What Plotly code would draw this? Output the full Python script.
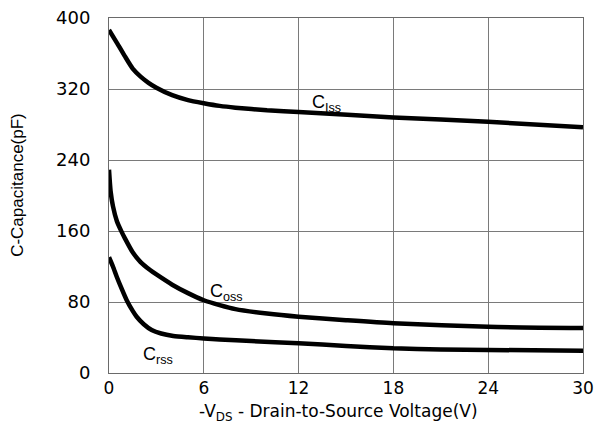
import plotly.graph_objects as go

# Data
v_ciss = [0, 0.5, 1.0, 1.5, 2.0, 2.5, 3.0, 4.0, 5.0, 6.0, 7.0, 8.0, 10.0, 12, 18, 24, 30]
c_ciss = [386.5, 372, 357, 343, 334, 327, 321.5, 313, 307.5, 304, 301, 299, 296, 294, 288, 283, 277]

v_coss = [0, 0.1, 0.25, 0.5, 0.8, 1.0, 1.5, 2.0, 2.6, 3.0, 4.0, 5.0, 6.0, 7.0, 8.0, 10.0, 12, 15, 18, 24, 30]
c_coss = [229, 205, 188, 171, 159, 152, 136, 125, 116, 111, 99.5, 90, 82, 76.5, 72, 67, 63.4, 59.5, 56, 52, 50.7]

v_crss = [0, 0.25, 0.49, 0.8, 1.12, 1.5, 1.75, 2.2, 2.7, 3.3, 4.07, 5.0, 6.0, 7.0, 9.0, 12, 15, 18, 21, 24, 30]
c_crss = [130.5, 120, 108.5, 95, 82, 70, 63.4, 55, 48.5, 44.5, 41.7, 40.2, 39, 37.8, 36, 33.5, 30.5, 27.8, 26.6, 26, 25]

x_ticks = [0, 6, 12, 18, 24, 30]
y_ticks = [0, 80, 160, 240, 320, 400]

curve_labels = [("C<sub>Iss</sub>", 12.75, 303.5), ("C<sub>oss</sub>", 6.25, 90.5), ("C<sub>rss</sub>", 2.05, 19.5)]

FONT = "Liberation Sans, Arial, sans-serif"
WIDE = "DejaVu Sans, Verdana, sans-serif"

fig = go.Figure()
for vx, cy in [(v_ciss, c_ciss), (v_coss, c_coss), (v_crss, c_crss)]:
    fig.add_trace(go.Scatter(x=vx, y=cy, mode="lines",
                             line=dict(color="black", width=4.5, shape="spline", smoothing=0.6),
                             showlegend=False, hoverinfo="skip"))

for txt, xv, yv in curve_labels:
    fig.add_annotation(x=xv, y=yv, xref="x", yref="y", text=txt, showarrow=False,
                       xanchor="left", yanchor="middle",
                       font=dict(family=FONT, size=18, color="black"))

# cut-off title at the very top
fig.add_annotation(x=0.5, y=1, xref="paper", yref="paper", text="Capacitance",
                   showarrow=False, xanchor="center", yanchor="bottom", yshift=17, xshift=-26,
                   font=dict(family=FONT, size=16, color="black"))

# axis titles as annotations for exact placement
fig.add_annotation(x=0.5, y=0, xref="paper", yref="paper",
                   text="-V<sub>DS</sub> - Drain-to-Source Voltage(V)",
                   showarrow=False, xanchor="center", yanchor="top", yshift=-26, xshift=-8,
                   font=dict(family=WIDE, size=17, color="black"))
fig.add_annotation(x=0, y=0.53, xref="paper", yref="paper", text="C-Capacitance(pF)",
                   showarrow=False, textangle=-90, xanchor="center", yanchor="middle", xshift=-91,
                   font=dict(family=FONT, size=17, color="black"))

axis_common = dict(showgrid=True, gridcolor="#7a7a7a", gridwidth=1,
                   showline=True, linecolor="#6a6a6a", linewidth=1, mirror=True,
                   zeroline=False, ticks="", automargin=False,
                   tickfont=dict(family=WIDE, size=17, color="black"))

fig.update_xaxes(range=[0, 30], tickvals=x_ticks, ticktext=[str(t) for t in x_ticks],
                 ticklabelstandoff=0, **axis_common)
fig.update_yaxes(range=[0, 400], tickvals=y_ticks, ticktext=[str(t) for t in y_ticks],
                 ticklabelstandoff=14, tickfont=dict(family=WIDE, size=18, color="black"),
                 **{k: v for k, v in axis_common.items() if k != "tickfont"})

fig.update_layout(width=601, height=424, margin=dict(l=109, r=18, t=18, b=51),
                  plot_bgcolor="white", paper_bgcolor="white")

fig.write_html("out.html")
